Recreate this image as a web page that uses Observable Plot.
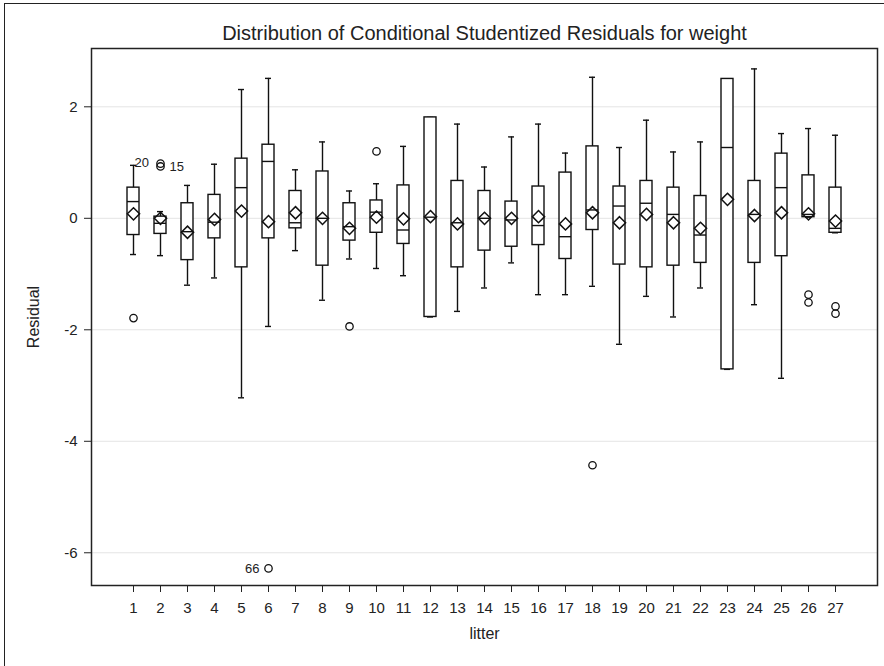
<!DOCTYPE html>
<html><head><meta charset="utf-8">
<script src="https://cdn.jsdelivr.net/npm/d3@7"></script>
<script src="https://cdn.jsdelivr.net/npm/@observablehq/plot@0.6"></script>
<style>
body{margin:0;background:#fff;}
#wrap{position:relative;width:884px;height:666px;overflow:hidden;}
#border{position:absolute;left:4px;top:3px;right:0;bottom:0;border-left:1.5px solid #222;border-top:1.5px solid #222;pointer-events:none;}
#wrap svg{position:absolute;left:0;top:0;}
#wrap svg g[aria-label$="tick label"], #wrap svg g[aria-label$="tick label"] text{font-size:15px !important;}
#wrap svg g[aria-label$="-axis label"], #wrap svg g[aria-label$="-axis label"] text{font-size:16px !important;}
</style></head><body><div id="wrap"><div id="border"></div></div>
<script>
const titleText = "Distribution of Conditional Studentized Residuals for weight";
const litters = [1,2,3,4,5,6,7,8,9,10,11,12,13,14,15,16,17,18,19,20,21,22,23,24,25,26,27];
const whiskerLow  = [-0.65,-0.67,-1.2,-1.07,-3.22,-1.94,-0.58,-1.47,-0.73,-0.9,-1.03,-1.77,-1.67,-1.25,-0.8,-1.37,-1.37,-1.22,-2.26,-1.4,-1.77,-1.25,-2.71,-1.55,-2.87,0.02,-0.26];
const q1          = [-0.3,-0.28,-0.75,-0.36,-0.88,-0.36,-0.18,-0.85,-0.4,-0.26,-0.46,-1.77,-0.88,-0.58,-0.51,-0.48,-0.73,-0.21,-0.83,-0.88,-0.85,-0.8,-2.71,-0.8,-0.68,0.02,-0.26];
const medians     = [0.3,-0.09,-0.24,-0.07,0.55,1.02,-0.08,0.0,-0.15,0.11,-0.21,0.02,-0.08,0.0,-0.03,-0.13,-0.33,0.15,0.22,0.27,0.07,-0.3,1.27,0.07,0.55,0.07,-0.18];
const q3          = [0.55,0.03,0.27,0.42,1.07,1.32,0.49,0.84,0.27,0.32,0.59,1.81,0.67,0.49,0.3,0.57,0.82,1.29,0.57,0.67,0.55,0.4,2.5,0.67,1.16,0.77,0.55];
const whiskerHigh = [0.95,0.12,0.59,0.97,2.31,2.51,0.87,1.37,0.49,0.62,1.29,1.81,1.69,0.92,1.46,1.69,1.17,2.53,1.27,1.76,1.19,1.37,2.5,2.68,1.52,1.61,1.49];
const means       = [0.08,0.0,-0.25,-0.02,0.13,-0.06,0.1,0.0,-0.18,0.02,-0.01,0.03,-0.1,0.0,0.0,0.03,-0.1,0.1,-0.08,0.07,-0.08,-0.18,0.34,0.05,0.1,0.08,-0.05];

const outlierLitter = [1,2,2,6,9,10,18,26,26,27,27];
const outlierValue  = [-1.79,0.98,0.93,-6.28,-1.94,1.2,-4.43,-1.37,-1.51,-1.58,-1.71];

const labelLitter = [1,2,6];
const labelValue  = [1.0,0.93,-6.28];
const labelText   = ["20","15","66"];
const labelSide   = ["center","right","left"];

const yTicks = [-6,-4,-2,0,2];

const rows = litters.map((l,i)=>({litter:l, lo:whiskerLow[i], q1:q1[i], med:medians[i], q3:q3[i], hi:whiskerHigh[i], mean:means[i]}));
const outliers = outlierLitter.map((l,i)=>({litter:l, value:outlierValue[i]}));
const labels = labelLitter.map((l,i)=>({litter:l, value:labelValue[i], text:labelText[i], side:labelSide[i]}));

const ink = "#111";
const chart = Plot.plot({
  width: 884, height: 666,
  marginLeft: 91, marginRight: 7, marginTop: 48, marginBottom: 81,
  style: {fontFamily: "'Liberation Sans', Arial, sans-serif", fontSize: "15px", color: "#222", background: "transparent"},
  x: {type: "band", domain: litters, paddingInner: 0.56, paddingOuter: 1.15, align: 0.5},
  y: {domain: [-6.587, 3.046]},
  marks: [
    Plot.gridY(yTicks, {stroke: "#e4e4e4", strokeOpacity: 1, strokeWidth: 1}),
    Plot.ruleX(rows, {x: "litter", y1: "lo", y2: "hi", stroke: ink, strokeWidth: 1.4}),
    Plot.tickY(rows, {x: "litter", y: "lo", insetLeft: 3, insetRight: 3, stroke: ink, strokeWidth: 1.4}),
    Plot.tickY(rows, {x: "litter", y: "hi", insetLeft: 3, insetRight: 3, stroke: ink, strokeWidth: 1.4}),
    Plot.barY(rows, {x: "litter", y1: "q1", y2: "q3", fill: "white", stroke: ink, strokeWidth: 1.4}),
    Plot.tickY(rows, {x: "litter", y: "med", stroke: ink, strokeWidth: 1.4}),
    Plot.dot(rows, {x: "litter", y: "mean", symbol: "diamond2", r: 5.5, stroke: ink, strokeWidth: 1.5, fill: "none"}),
    Plot.dot(outliers, {x: "litter", y: "value", r: 3.7, stroke: ink, strokeWidth: 1.3, fill: "none"}),
    Plot.text(labels.filter(d => d.side === "center"), {x: "litter", y: "value", text: "text", textAnchor: "start", dx: 1, fontSize: 13, fill: "#222"}),
    Plot.text(labels.filter(d => d.side === "right"), {x: "litter", y: "value", text: "text", textAnchor: "start", dx: 9, fontSize: 13, fill: "#222"}),
    Plot.text(labels.filter(d => d.side === "left"), {x: "litter", y: "value", text: "text", textAnchor: "end", dx: -9, fontSize: 13, fill: "#222"}),
    Plot.frame({stroke: "#222", strokeWidth: 1.5}),
    Plot.axisY(yTicks, {tickSize: 7, tickPadding: 7, tickFormat: d => String(d), label: "Residual", labelAnchor: "center", labelArrow: "none", labelOffset: 64, fontSize: 15}),
    Plot.axisX({tickSize: 7, tickPadding: 10, label: "litter", labelAnchor: "center", labelArrow: "none", labelOffset: 53, fontSize: 15}),
    Plot.text([titleText], {text: d => d, frameAnchor: "top", dy: -23, fontSize: 20, fill: "#222"})
  ]
});
document.getElementById("wrap").appendChild(chart);
</script></body></html>
